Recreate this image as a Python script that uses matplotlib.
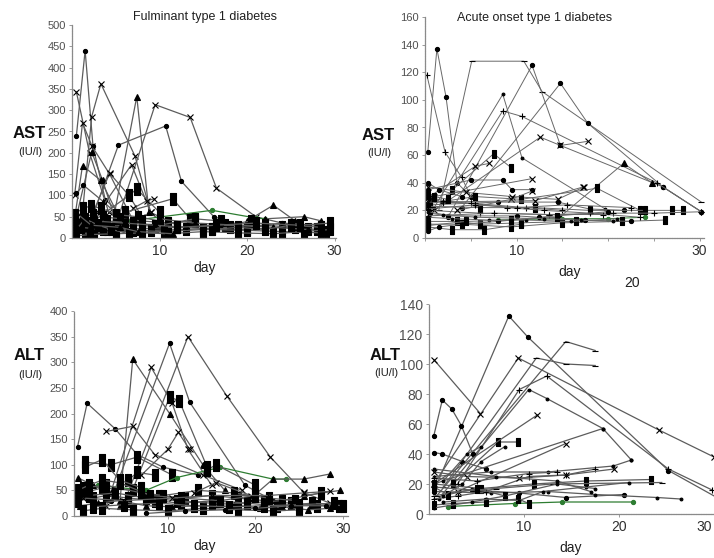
import matplotlib
matplotlib.use('Agg')
import matplotlib.pyplot as plt
from matplotlib import font_manager

# ---------------- data (approximate) ----------------
# Fulminant type 1 diabetes, AST
fulm_ast_days = [
    [0.5, 1.5, 2.4, 3.8, 6.5], [0.5, 2.0, 4.2, 6.8], [1.2, 2.25, 3.3, 7.2, 9.0],
    [0.3, 1.2, 2.3, 4.3, 7.0], [4.5, 7.4, 8.8, 11.0], [5.0, 9.5, 13.5, 16.5, 21.0, 25.0],
    [2.0, 5.3, 10.7, 12.5, 16.2, 20.0], [0.5, 2.25, 3.5, 5.0], [0.4, 1.2, 3.3, 5.5],
    [0.5, 1.3, 3.6, 6.0], [2.0, 4.3, 6.5, 8.0], [3.0, 6.8, 9.0, 12.0],
    [2.5, 6.5, 7.4, 10.0], [7.0, 8.6, 9.4], [6.0, 11.5, 13.5],
    [6.5, 16.0, 21.0, 22.0], [20.0, 23.0, 25.5], [22.0, 26.5, 28.5],
    [0.3, 1.2, 2.2, 3.3, 5.0, 7.5, 10.0], [0.3, 1.2, 2.4, 3.5, 5.5, 8.0, 11.0, 14.0],
    [0.4, 2.0, 4.0, 7.0, 10.0, 14.0, 17.0], [0.5, 3.0, 6.0, 9.5, 12.0, 17.5, 20.5],
    [1.5, 4.0, 8.0, 12.0, 16.0, 20.0, 24.0, 27.0, 29.0],
    [0.3, 2.5, 5.0, 9.0, 13.0, 18.0, 22.0, 25.5, 28.0],
    [1.0, 3.5, 7.0, 10.5, 15.0, 20.0, 24.0, 28.5],
    [0.5, 2.0, 5.0, 8.0, 11.0, 15.0, 19.0, 23.0, 26.5, 29.5],
    [2.5, 6.0, 9.5, 13.0, 17.0, 21.0, 24.0, 28.0], [10.0, 14.0, 19.0, 23.0, 27.0],
    [16.0, 19.0, 22.0, 25.0, 28.5], [12.0, 16.5, 21.0, 26.0, 29.5],
    [0.3, 1.5, 3.0, 4.5, 6.5], [0.4, 2.2, 5.5, 7.5, 11.5],
]
fulm_ast_vals = [
    [240, 440, 215, 90, 40], [343, 200, 60, 35], [60, 285, 362, 192, 60],
    [100, 270, 215, 150, 40], [20, 332, 60, 30], [30, 313, 283, 117, 50, 30],
    [30, 218, 263, 133, 50, 25], [50, 202, 135, 40], [60, 170, 135, 45],
    [105, 124, 85, 40], [40, 152, 100, 50], [60, 172, 60, 30],
    [40, 100, 115, 60], [70, 88, 92], [60, 92, 45],
    [40, 65, 47, 45], [40, 77, 40], [45, 50, 40],
    [55, 70, 75, 70, 55, 50, 40], [40, 50, 55, 50, 45, 40, 35, 40],
    [30, 35, 40, 35, 30, 45, 40], [20, 25, 30, 28, 25, 30, 40],
    [15, 20, 22, 25, 22, 20, 25, 20, 15],
    [10, 12, 15, 18, 20, 25, 30, 25, 20],
    [25, 20, 18, 15, 20, 18, 15, 12],
    [5, 8, 10, 12, 10, 15, 12, 10, 15, 20],
    [40, 35, 30, 25, 30, 28, 35, 30], [45, 35, 30, 25, 20],
    [20, 25, 20, 30, 25], [25, 30, 35, 30, 35],
    [15, 45, 30, 20, 10], [60, 30, 25, 15, 10],
]
fulm_ast_marks = "oxxx^xo^^oxxsxsG^^sssssssso^sss^ss"

# Acute onset type 1 diabetes, AST
acute_ast_days = [
    [0.3, 1.3, 2.3, 3.5, 5.0], [1.5, 5.1, 10.8, 12.8, 30.2], [0.2, 2.2, 4.0, 5.0],
    [2.5, 11.7, 14.8, 26.0, 30.2], [4.0, 14.8, 17.8, 26.0, 30.2], [1.0, 8.5, 10.6, 19.7],
    [2.0, 8.5, 10.6, 25.3, 30.2], [1.0, 12.6, 14.8, 17.8], [14.7, 21.7, 24.8],
    [3.0, 7.5, 9.4], [1.0, 11.7], [0.5, 5.5, 7.0], [0.3, 5.0, 8.5, 9.5, 11.7],
    [0.3, 4.5, 9.5, 14.5, 17.4], [0.5, 5.5, 10.5, 18.8, 23.5],
    [0.5, 8.0, 14.5, 18.0, 21.8], [0.3, 6.0, 12.0, 18.0, 24.0, 27.0, 28.2],
    [0.5, 6.0, 13.5, 20.5, 25.0, 30.2], [8.0, 15.0, 20.0, 24.0],
    [0.3, 4.0, 9.4, 15.0, 21.5, 26.2], [0.3, 3.0, 6.5, 10.5],
    [0.5, 2.5, 10.0, 17.5, 22.5], [0.3, 3.5, 6.0, 10.5, 16.5],
    [0.3, 2.0, 5.5, 11.0, 15.0], [0.3, 1.5, 4.0], [3.5, 9.4, 11.7],
    [0.3, 7.5, 13.5, 19.5], [0.3, 12.0, 17.3],
    [0.3, 2.0, 5.0, 9.0, 13.0, 18.0, 23.5], [0.3, 3.0, 7.0, 11.0, 16.0, 21.0],
    [0.3, 1.5, 4.0, 8.0, 12.5, 20.0], [0.3, 5.5, 10.0, 15.5, 22.5],
    [0.3, 1.0, 2.5], [0.3, 4.5, 9.4, 14.4], [0.3, 2.0, 5.5, 13.0, 17.0, 20.5],
]
acute_ast_vals = [
    [62, 137, 102, 40, 30], [20, 128, 128, 106, 26], [118, 62, 44, 30],
    [15, 125, 67, 37, 19], [22, 112, 83, 37, 19], [22, 104, 58, 21],
    [25, 92, 88, 40, 19], [20, 73, 67, 70], [15, 54, 40],
    [35, 61, 51], [30, 43], [30, 52, 54], [35, 42, 42, 35, 35],
    [37, 33, 30, 28, 37], [25, 30, 28, 36, 20],
    [24, 26, 26, 21, 20], [23, 22, 22, 20, 20, 20, 20],
    [20, 18, 17, 18, 18, 19], [13, 14, 14, 15],
    [10, 10, 8, 11, 12, 13], [8, 6, 6, 10],
    [18, 16, 16, 13, 12], [12, 12, 10, 11, 12],
    [28, 26, 25, 22, 20], [40, 35, 30], [20, 28, 34],
    [16, 18, 17, 17], [26, 27, 37],
    [30, 27, 25, 22, 20, 18, 15], [15, 14, 13, 13, 12, 14],
    [5, 8, 10, 12, 15, 19], [21, 24, 22, 24, 22],
    [32, 30, 28], [9, 12, 13, 15], [19, 17, 15, 14, 13, 12],
]
acute_ast_marks = "o_+oo.+x^sxxoxsos+Gssos+ox+x+.o+ss."

# Fulminant type 1 diabetes, ALT
fulm_alt_days = [
    [5.0, 12.3, 16.7, 21.7, 25.5, 28.5], [3.5, 10.2, 12.5, 18.8, 22.0],
    [4.5, 6.0, 10.2, 14.0, 16.5], [3.0, 8.1, 10.5, 12.3, 15.0],
    [-0.3, 0.8, 4.0, 6.5, 9.5, 13.5], [3.0, 6.0, 8.5, 14.0, 18.5],
    [5.5, 10.2, 11.3, 14.5], [7.0, 10.0, 11.2, 12.5], [0.5, 3.5, 6.5, 10.5],
    [5.5, 6.5, 8.5], [2.0, 7.5, 11.0, 16.0, 22.0, 23.5], [19.5, 22.0, 25.5, 28.5],
    [14.5, 15.5, 20.0], [25.5, 29.7], [-0.3, 1.5, 3.5],
    [0.5, 2.5, 6.0, 9.0, 12.0, 15.0, 18.0, 21.0, 24.0, 27.0, 29.5],
    [-0.3, 1.5, 3.0, 5.5, 8.5, 11.5, 15.5, 19.0, 22.5, 26.5, 30.0],
    [0.0, 2.0, 4.5, 7.5, 10.5, 14.0, 17.5, 20.5, 23.0, 26.0, 28.5],
    [0.3, 2.5, 6.0, 10.0, 14.0, 18.0, 22.0, 25.0],
    [1.0, 4.0, 7.5, 11.0, 15.0, 19.0, 23.0, 27.5],
    [0.3, 3.0, 7.0, 9.5, 13.5, 17.5, 21.5, 24.5],
    [-0.3, 1.0, 2.5, 4.5, 8.0, 11.5, 16.0, 20.0],
    [1.5, 5.0, 9.0, 13.0, 17.0, 21.0, 25.0, 29.0],
    [7.5, 12.0, 16.5, 20.0, 24.0, 28.0], [0.5, 2.5, 4.5, 7.0],
    [13.0, 15.5, 19.5], [0.3, 5.0, 10.5, 15.0, 21.5, 25.5, 28.5],
]
fulm_alt_vals = [
    [25, 350, 235, 115, 46, 25], [30, 337, 222, 60, 30],
    [20, 306, 200, 100, 50], [20, 290, 220, 130, 60],
    [135, 220, 170, 120, 95, 80], [165, 175, 120, 80, 50],
    [30, 232, 225, 95], [80, 130, 163, 130], [105, 100, 115, 80],
    [70, 85, 80], [60, 50, 75, 95, 72, 72], [35, 72, 72, 82],
    [90, 100, 60], [40, 50], [75, 60, 45],
    [45, 55, 50, 40, 35, 40, 35, 30, 25, 20, 20],
    [30, 35, 40, 35, 30, 25, 30, 25, 20, 25, 20],
    [20, 25, 30, 20, 18, 20, 22, 15, 18, 12, 15],
    [10, 15, 12, 10, 15, 12, 10, 12],
    [40, 45, 35, 30, 25, 25, 30, 45],
    [55, 60, 45, 40, 50, 45, 35, 30],
    [50, 60, 70, 65, 40, 35, 30, 40],
    [18, 22, 25, 20, 18, 20, 22, 25],
    [5, 10, 12, 15, 20, 20], [95, 110, 70, 55],
    [45, 65, 40], [35, 30, 35, 40, 40, 45, 48],
]
fulm_alt_marks = "xo^xoxsxssG^s^^ss^sssssosxxs"

# Acute onset type 1 diabetes, ALT
acute_alt_days = [
    [0.5, 8.4, 10.4, 25.2, 30.3], [0.5, 9.4, 24.2, 30.0], [0.8, 14.4, 17.5],
    [1.5, 11.3, 14.4, 17.5], [1.0, 10.5, 12.4, 18.3, 21.3],
    [3.0, 9.5, 12.4, 25.2, 29.8], [0.5, 5.4], [0.5, 1.4, 2.4, 3.4, 4.6],
    [0.5, 1.4, 3.5, 6.0], [2.5, 7.3, 9.4], [0.5, 11.4], [3.0, 14.4],
    [0.5, 6.5, 12.5, 19.4, 21.3], [0.5, 18.3], [0.5, 5.5, 11.0, 16.5, 23.4],
    [0.5, 4.5, 9.5, 14.4, 20.5], [0.5, 6.5, 12.5, 17.5, 24.0, 26.5],
    [2.0, 9.0, 14.0, 21.5], [0.5, 2.5, 6.0, 9.4, 10.5],
    [0.5, 3.0, 6.0, 10.5, 14.4, 17.5], [0.5, 4.0, 9.5, 14.4, 19.5],
    [0.5, 5.0, 10.5, 13.5], [0.5, 7.0, 13.5, 17.0], [0.5, 3.0, 7.0, 13.0, 24.5],
    [0.5, 2.0, 5.0, 8.0], [1.5, 6.0, 9.5, 12.0, 16.5, 21.0],
    [0.5, 4.5, 8.0, 13.5, 17.5], [1.5, 4.0, 5.5], [1.5, 3.5, 5.5, 8.0],
]
acute_alt_vals = [
    [15, 132, 118, 29, 11], [20, 104, 56, 38], [12, 115, 109],
    [18, 104, 100, 99], [10, 83, 77, 57, 36],
    [20, 83, 92, 30, 16], [103, 67], [52, 76, 70, 59, 40],
    [41, 40, 35, 30], [20, 48, 48], [20, 66], [15, 47],
    [25, 28, 28, 32, 36], [20, 57], [20, 17, 20, 22, 23],
    [18, 16, 14, 11, 13], [15, 14, 15, 13, 11, 10],
    [5, 7, 8, 8], [6, 7, 8, 10, 7],
    [10, 12, 15, 25, 26, 30], [28, 25, 24, 26, 30],
    [24, 22, 27, 28], [30, 25, 22, 15], [12, 15, 17, 20, 21],
    [18, 13, 17, 12], [8, 10, 9, 15, 18, 21],
    [4, 8, 12, 20, 17], [22, 40, 45], [12, 20, 35, 45],
]
acute_alt_marks = "ox__.+xoosxx..so.Gs+x+._s...."

# ---------------- styling ----------------
try:
    font_manager.findfont("Liberation Sans Narrow", fallback_to_default=False)
    tick_font = "Liberation Sans Narrow"
except Exception:
    tick_font = "Liberation Sans"
plt.rcParams['font.family'] = ['Liberation Sans', 'DejaVu Sans']

W, H = 714, 558
TALL_SQ = [(-0.55, -1), (0.55, -1), (0.55, 1), (-0.55, 1), (-0.55, -1)]
GREEN = "#2e7d32"


def px_axes(fig, left, right, bottom, top):
    return fig.add_axes([left / W, 1 - bottom / H, (right - left) / W, (bottom - top) / H])


def draw_series(ax, days_list, vals_list, marks, sq_size, lw, line_color):
    for days, vals, m in zip(days_list, vals_list, marks):
        color = line_color
        kw = dict(ms=3, mfc="black", mec="black", mew=0.8)
        if m == "G":
            color, m = GREEN, "o"
            kw.update(mfc=GREEN, mec=GREEN, ms=3)
        elif m == "s":
            m = TALL_SQ
            kw["ms"] = sq_size
        elif m == "^":
            kw["ms"] = 4.5
        elif m in "x+_.":
            kw["ms"] = 4
        ax.plot(days, vals, color=color, lw=lw, marker=m, **kw, zorder=2)


def style_axes(ax, xlim, ylim, yticks, xticks, xlabels):
    ax.set_xlim(*xlim)
    ax.set_ylim(*ylim)
    for s in ("top", "right"):
        ax.spines[s].set_visible(False)
    for s in ("left", "bottom"):
        ax.spines[s].set_color("#8a8a8a")
        ax.spines[s].set_linewidth(0.9)
        ax.spines[s].set_linestyle((0, (1.2, 0.8)))
    ax.set_yticks(yticks)
    ax.set_yticklabels([str(v) for v in yticks])
    ax.set_xticks(xticks)
    ax.set_xticklabels(xlabels)
    ax.tick_params(axis="both", length=2.5, width=0.6, color="#8a8a8a", pad=2)
    ax.tick_params(axis="y", labelsize=8, labelcolor="#505050")
    ax.tick_params(axis="x", labelsize=10, labelcolor="#303030")
    for t in ax.get_yticklabels():
        t.set_family([tick_font, "DejaVu Sans"])
    ax.set_facecolor("none")


def ftext(x, y, s, **kw):
    fig.text(x / W, 1 - y / H, s, ha="center", va="center", **kw)


fig = plt.figure(figsize=(W / 100, H / 100), dpi=100)

# top-left: fulminant AST
ax1 = px_axes(fig, 72, 335.5, 238, 25)
draw_series(ax1, fulm_ast_days, fulm_ast_vals, fulm_ast_marks, 8, 0.9, "#5c5c5c")
style_axes(ax1, (0, 30.1), (0, 500), list(range(0, 501, 50)), [10, 20, 30], ["10", "20", "30"])

# top-right: acute AST
ax2 = px_axes(fig, 425, 705, 238, 17)
draw_series(ax2, acute_ast_days, acute_ast_vals, acute_ast_marks, 6, 0.7, "#686868")
style_axes(ax2, (0, 30.6), (0, 160), list(range(0, 161, 20)),
           [0, 5, 10, 15, 20, 25, 30], ["", "", "10", "", "", "", "30"])

# bottom-left: fulminant ALT
ax3 = px_axes(fig, 74, 347.5, 516, 311)
draw_series(ax3, fulm_alt_days, fulm_alt_vals, fulm_alt_marks, 8, 0.9, "#5c5c5c")
style_axes(ax3, (-0.7, 30.5), (0, 400), list(range(0, 401, 50)), [10, 20, 30], ["10", "20", "30"])

# bottom-right: acute ALT (the 30 label is placed by hand so it stays inside the figure)
ax4 = px_axes(fig, 429, 718.75, 514, 304)
draw_series(ax4, acute_alt_days, acute_alt_vals, acute_alt_marks, 6, 0.9, "#5c5c5c")
style_axes(ax4, (0, 30.5), (0, 140), list(range(0, 141, 20)), [10, 20, 30], ["10", "20", ""])
ax4.tick_params(axis="y", labelsize=10)
for t in ax4.get_yticklabels():
    t.set_family(["Liberation Sans", "DejaVu Sans"])

# titles, axis labels
ftext(205, 17, "Fulminant type 1 diabetes", fontsize=9, color="#202020")
ftext(535, 18, "Acute onset type 1 diabetes", fontsize=9, color="#202020")

for (x, y1, y2, name) in [(29, 133, 152, "AST"), (378, 135, 153, "AST"),
                          (29, 356, 375, "ALT"), (385, 355, 373, "ALT")]:
    ftext(x, y1, name, fontsize=12, fontweight="bold", color="#111111")
    ftext(x + 1, y2, "(IU/l)", fontsize=8, color="#202020", family=[tick_font, "DejaVu Sans"])

ftext(205, 268, "day", fontsize=10, color="#202020")
ftext(570, 272, "day", fontsize=10, color="#202020")
ftext(632, 283, "20", fontsize=10, color="#202020")
ftext(205, 546, "day", fontsize=10, color="#202020")
ftext(571, 548, "day", fontsize=10, color="#202020")
ftext(704, 527, "30", fontsize=10, color="#303030")

fig.savefig("out.png", dpi=100, facecolor="white")
